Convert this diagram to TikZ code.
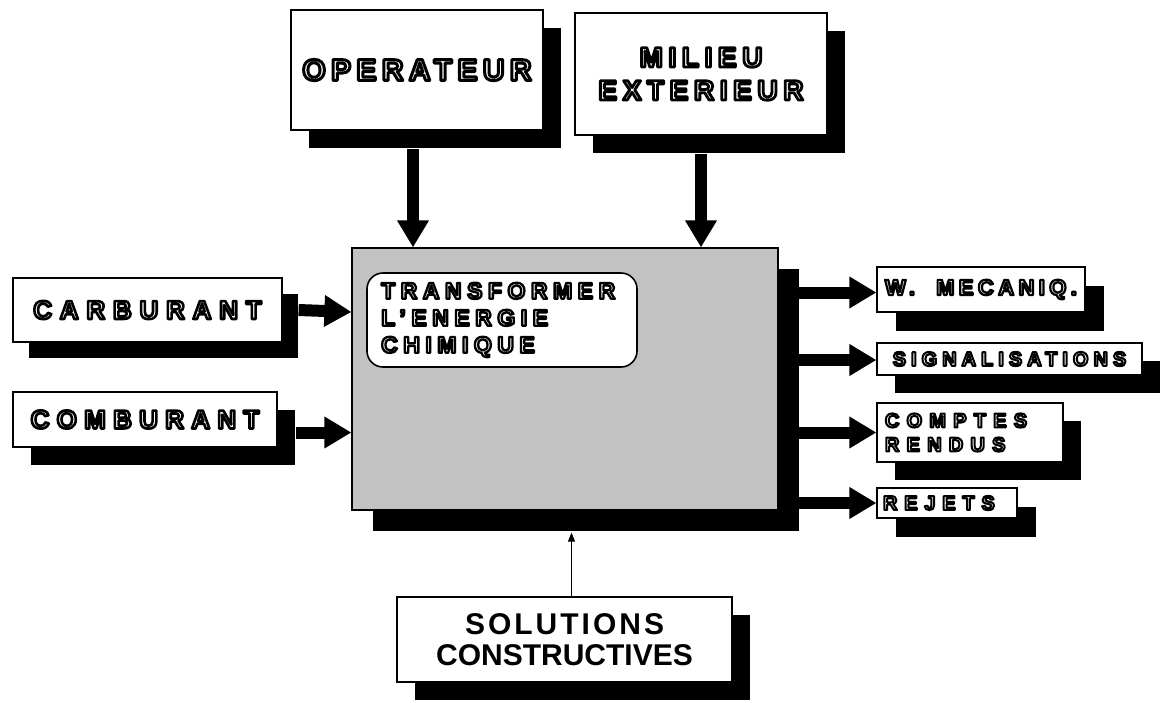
\documentclass[tikz,border=0pt]{standalone}
\usepackage{fontspec}
\setmainfont{Liberation Sans}
\usetikzlibrary{arrows.meta,shadows,calc}
\newcommand{\olt}[2]{{\addfontfeatures{LetterSpace=#1,FakeBold=10}\color{black}\special{pdf:literal direct 1 g 1 j 1 J}#2\special{pdf:literal direct 0 g 0 j 0 J}}}
\tikzset{
  box/.style={draw=black, line width=1.2pt, fill=white, inner sep=0pt, align=center, font=\bfseries},
  shad/.style={general shadow={fill=black, shadow xshift=#1, shadow yshift=-#1}},
  shad/.default=18pt,
  bigarrow/.style={line width=12pt, -{Triangle[length=27pt,width=30pt]}},
  thinarrow/.style={line width=1pt, -{Triangle[length=9pt,width=7pt]}}
}
\begin{document}
\begin{tikzpicture}[x=1pt,y=-1pt]
\useasboundingbox (0,0) rectangle (1168,702);
\node[box, shad=18pt, minimum width=252pt, minimum height=120pt, font=\bfseries\fontsize{30}{34}\selectfont] (op) at (417,70) {\olt{18}{OPERATEUR}};
\node[box, shad=18pt, minimum width=252pt, minimum height=122pt, font=\bfseries\fontsize{28}{32}\selectfont] (mil) at (701,74) {\olt{20}{MILIEU}\\[1pt]\olt{20}{EXTERIEUR}};
\node[box, shad=21pt, fill=black!24, minimum width=426pt, minimum height=262pt] (cen) at (565,379) {};
\node[box, line width=1.6pt, rounded corners=16pt, minimum width=270pt, minimum height=94pt] (inner) at (502,320) {};
\node[anchor=west, align=left, inner sep=0pt, font=\bfseries\fontsize{23}{27}\selectfont] (tx) at (381,320) {\olt{24}{TRANSFORMER}\\\olt{24}{L'ENERGIE}\\\olt{24}{CHIMIQUE}};
\node[box, shad=16pt, minimum width=269pt, minimum height=64pt, font=\bfseries\fontsize{26}{30}\selectfont] (carb) at (147.5,310) {\olt{30}{CARBURANT}};
\node[box, shad=18pt, minimum width=264pt, minimum height=55pt, font=\bfseries\fontsize{26}{30}\selectfont] (comb) at (145,419.5) {\olt{28}{COMBURANT}};
\node[box, shad=19pt, minimum width=208pt, minimum height=45pt, font=\bfseries\fontsize{22}{26}\selectfont] (wm) at (981,289.5) {\olt{20}{W.~~MECANIQ.}};
\node[box, shad=18pt, minimum width=265pt, minimum height=32pt, font=\bfseries\fontsize{20}{24}\selectfont] (sig) at (1009.5,359) {\olt{25}{SIGNALISATIONS}};
\node[box, shad=18pt, minimum width=186pt, minimum height=59pt, font=\bfseries\fontsize{20}{22}\selectfont] (cr) at (970,432.5) {\parbox{170pt}{\raggedright\olt{36}{COMPTES}\\[2pt]\olt{36}{RENDUS}}};
\node[box, shad=19pt, minimum width=140pt, minimum height=30pt, font=\bfseries\fontsize{20}{24}\selectfont] (rej) at (947,503) {\parbox{128pt}{\raggedright\olt{34}{REJETS}}};
\node[box, shad=18pt, minimum width=335pt, minimum height=85pt, font=\bfseries\fontsize{30}{31}\selectfont] (sol) at (564.5,639.5) {\addfontfeatures{LetterSpace=10}SOLUTIONS\\CONSTRUCTIVES};
% connectors
\coordinate (opout) at ([yshift=-18pt]op.south);
\coordinate (milout) at ([yshift=-18pt]mil.south);
\coordinate (cenbot) at ([yshift=-22pt]cen.south);
\coordinate (cenright) at ([xshift=20pt]cen.east);
\draw[bigarrow] ([xshift=-4pt]opout) -- ([xshift=-4pt]op.south |- cen.north);
\draw[bigarrow] (milout) -- (mil.south |- cen.north);
\draw[bigarrow] ([xshift=16pt]carb.east) -- ([yshift=-2pt]carb.east -| cen.west);
\draw[bigarrow] ([xshift=18pt,yshift=-13pt]comb.east) -- ([yshift=-13pt]comb.east -| cen.west);
\draw[bigarrow] ([yshift=-3pt]wm.west -| cenright) -- ([yshift=-3pt]wm.west);
\draw[bigarrow] ([yshift=-1pt]sig.west -| cenright) -- ([yshift=-1pt]sig.west);
\draw[bigarrow] (cr.west -| cenright) -- (cr.west);
\draw[bigarrow] (rej.west -| cenright) -- (rej.west);
\draw[thinarrow] ([xshift=7pt]sol.north) -- ([xshift=7pt]sol.north |- cenbot);
\end{tikzpicture}
\end{document}
